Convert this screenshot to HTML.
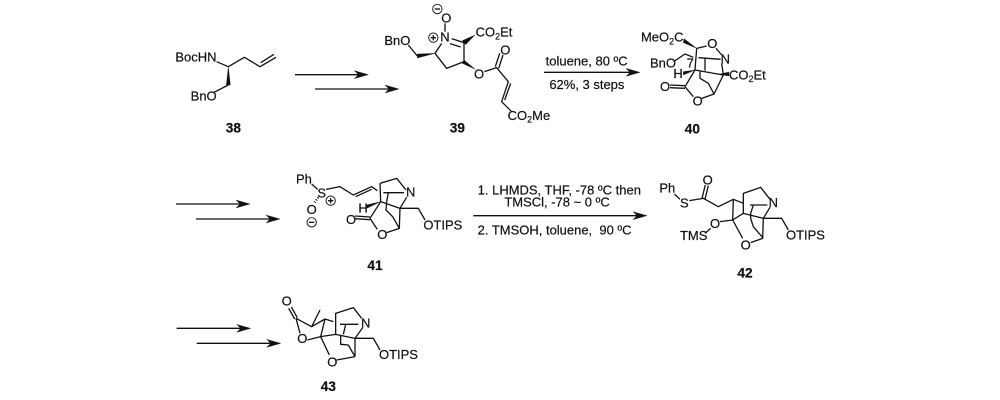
<!DOCTYPE html>
<html><head><meta charset="utf-8"><style>
html,body{margin:0;padding:0;background:#fff}
svg{display:block;filter:blur(.25px)}
text{font-family:"Liberation Sans",sans-serif;font-size:39px;fill:#111;stroke:#111;stroke-width:.6px}
.b{font-weight:bold;font-size:41px;text-anchor:middle}
.m{text-anchor:middle}
path{fill:none;stroke:#111;stroke-width:3.9;stroke-linejoin:round}
.w{fill:#111;stroke:#111;stroke-width:1}
.h{stroke-dasharray:3 5;stroke-width:7}
circle{fill:#fff;stroke:#111;stroke-width:2.8}
</style></head><body>
<svg width="1000" height="400" viewBox="0 0 1000 400" xmlns="http://www.w3.org/2000/svg">
<defs><path id="a" class="w" d="M0 0L-42 -12L-30 0L-42 12Z"/></defs>

<!-- Row 1: 38, 39 -->
<g transform="translate(150,0) scale(.33333)">
<text x="76" y="185">BocHN</text>
<path d="M200 185L235 200L283 172L330 200L378 172M332 188L372 163"/>
<path class="w" d="M235 200L229 255L241 255Z"/>
<path d="M235 255L192 277"/>
<text x="122" y="301">BnO</text>
<text class="b" x="250" y="398">38</text>
<path d="M435 224H630M495 267H720"/>
<use href="#a" x="655" y="224"/><use href="#a" x="747" y="267"/>

<text x="703" y="135">BnO</text>
<path d="M775 135L802 168"/>
<path class="w" d="M855 160L802 162L802 174Z"/>
<path d="M855 160L890 205L942 185V128M875 130L855 160M905 116L942 128M900 131L932 141"/>
<path class="w" d="M975 105L937 122L947 134Z"/>
<text x="977" y="110">CO<tspan font-size="27" dy="8">2</tspan><tspan dy="-8">Et</tspan></text>
<text class="m" x="885" y="124">N</text>
<path d="M885 95V70"/>
<text class="m" x="889" y="68">O</text>
<circle cx="862" cy="27" r="14"/><path d="M854 27H870"/>
<circle cx="850" cy="113" r="14"/><path d="M842 113H858M850 105V121"/>
<path class="w" d="M976 208L942 180L937 190Z"/>
<text class="m" x="987" y="236">O</text>
<path d="M1003 215L1040 203L1075 245L1055 305L1085 335M1036 200L1049 160M1046 205L1059 165M1082 250L1064 300"/>
<text class="m" x="1066" y="164">O</text>
<text x="1073" y="360">CO<tspan font-size="27" dy="8">2</tspan><tspan dy="-8">Me</tspan></text>
<text class="b" x="922" y="398">39</text>
</g>

<!-- Row 1: reagents + 40 -->
<g transform="translate(530,20) scale(.33333)">
<text x="47" y="137">toluene, 80 ºC</text>
<path d="M42 157H305"/><use href="#a" x="330" y="157"/>
<text x="58" y="207">62%, 3 steps</text>
<text x="333" y="65">MeO<tspan font-size="27" dy="8">2</tspan><tspan dy="-8">C</tspan></text>
<path class="w" d="M500 85L462 56L460 68Z"/>
<text class="m" x="547" y="84">O</text>
<path d="M500 85L530 78M558 85L575 105"/>
<text class="m" x="586" y="130">N</text>
<path d="M500 85L495 150M435 122L465 102L490 112M505 113L572 118M525 115V152"/>
<text x="360" y="142">BnO</text>
<text x="470" y="142" font-size="28">7</text>
<text x="430" y="174">H</text>
<path class="w" d="M495 150L460 155L460 165Z"/>
<path d="M495 150L465 200M465 197L420 195M465 205L420 203"/>
<text class="m" x="405" y="213">O</text>
<path d="M465 200L490 230M515 235L552 222L580 165L575 130M495 150L580 165M552 222L535 190L510 175V155"/>
<text class="m" x="503" y="257">O</text>
<path class="w" d="M597 156L565 163L597 168Z"/>
<text x="597" y="178">CO<tspan font-size="27" dy="8">2</tspan><tspan dy="-8">Et</tspan></text>
<text class="b" x="487" y="340">40</text>
</g>

<!-- Row 2: 41 -->
<g transform="translate(170,160) scale(.33333)">
<path d="M18 132H215M78 177H305"/>
<use href="#a" x="240" y="132"/><use href="#a" x="330" y="177"/>
<text x="378" y="70">Ph</text>
<path d="M425 72L443 88"/>
<text class="m" x="455" y="112">S</text>
<circle cx="482" cy="122" r="14"/><path d="M474 122H490M482 114V130"/>
<path d="M468 88L510 80L550 105L605 80L622 92M557 110L605 88"/>
<path class="h" d="M445 112L432 130"/>
<text class="m" x="425" y="162">O</text>
<circle cx="425" cy="187" r="14"/><path d="M417 187H433"/>
<path d="M630 70L680 55L708 90M630 70L632 125M640 98L702 98M655 98L650 125M632 125L690 145L710 112"/>
<text class="m" x="722" y="110">N</text>
<text x="565" y="158">H</text>
<path class="w" d="M632 125L590 135L590 145Z"/>
<path d="M632 125L600 175M600 171L555 168M600 179L555 176"/>
<text class="m" x="543" y="192">O</text>
<path d="M600 175L622 208M650 218L688 205L690 145M688 205L668 170L648 150L650 125M690 145H745L765 180"/>
<text class="m" x="637" y="237">O</text>
<text x="760" y="208">OTIPS</text>
<text class="b" x="615" y="330">41</text>
</g>

<!-- Row 2: reagents -->
<g transform="translate(465,170) scale(.33333)">
<text x="38" y="73">1. LHMDS, THF, -78 ºC then</text>
<text x="118" y="110">TMSCl, -78 ~ 0 ºC</text>
<path d="M25 137H520"/><use href="#a" x="546" y="137"/>
<text x="38" y="193">2. TMSOH, toluene,&#160; 90 ºC</text>
</g>

<!-- Row 2: 42 -->
<g transform="translate(620,170) scale(.33333)">
<text x="118" y="68">Ph</text>
<path d="M163 72L180 88"/>
<text class="m" x="193" y="112">S</text>
<path d="M208 92L250 85L295 110L340 88L370 100M246 85L256 45M255 88L265 47M340 88L338 150M338 150L300 155"/>
<text class="m" x="263" y="44">O</text>
<text class="m" x="285" y="174">O</text>
<path d="M272 175L255 190"/>
<text x="180" y="210">TMS</text>
<path d="M338 150L368 205M392 218L428 205M338 150L370 130V70L422 52L450 88M370 130L430 145L450 112M390 105L442 105M400 105L392 130M428 205L430 145M430 205L400 170L392 145V130M430 145H485L505 180"/>
<text class="m" x="377" y="239">O</text>
<text class="m" x="460" y="111">N</text>
<text x="498" y="208">OTIPS</text>
<text class="b" x="375" y="322">42</text>
</g>

<!-- Row 3: 43 -->
<g transform="translate(170,285) scale(.33333)">
<path d="M20 130H217M80 175H307"/>
<use href="#a" x="242" y="130"/><use href="#a" x="332" y="175"/>
<text class="m" x="350" y="61">O</text>
<path d="M356 70L374 102M364 66L382 98M378 100L425 125L465 102L490 110M425 125L450 75M378 100L390 145M412 165L452 155M465 102L452 155M452 155L497 148M452 155L478 210M500 225L555 215M497 148V85L550 68L575 100M497 148L555 160L578 128M510 118H565M527 118L520 148M555 160V215M555 215L535 180L512 178V150M555 160H610L630 195"/>
<text class="m" x="397" y="174">O</text>
<text class="m" x="487" y="244">O</text>
<text class="m" x="587" y="127">N</text>
<text x="627" y="222">OTIPS</text>
<text class="b" x="475" y="318">43</text>
</g>
</svg>
</body></html>
